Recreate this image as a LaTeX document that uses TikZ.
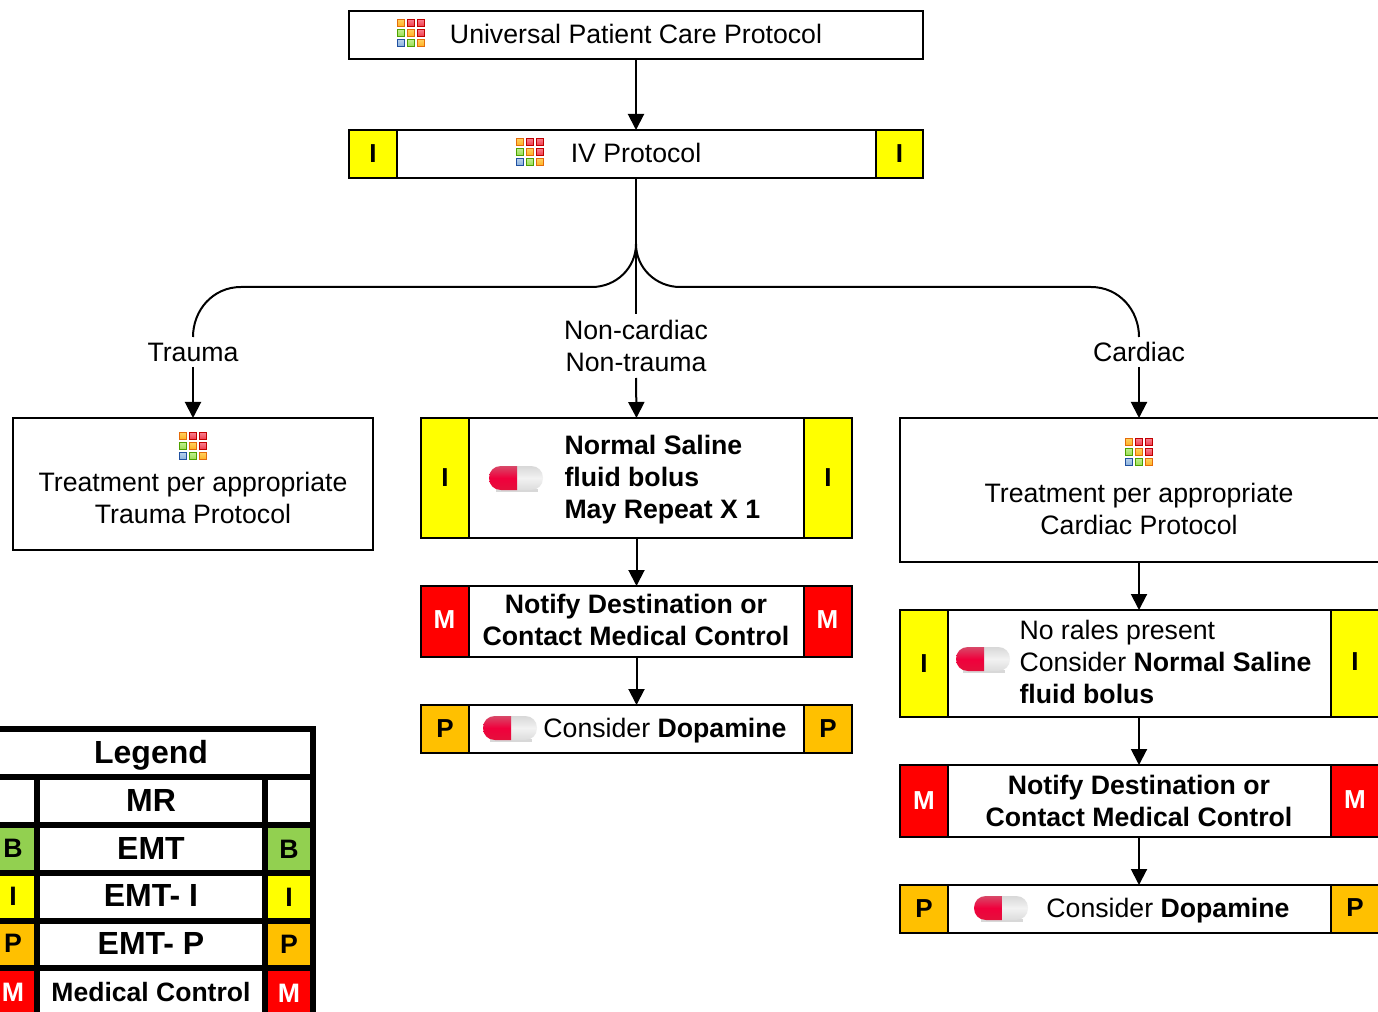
\documentclass[tikz,border=0pt]{standalone}
\usepackage{fontspec}
\setmainfont{Liberation Sans}
\usetikzlibrary{arrows.meta}
\definecolor{tabY}{HTML}{FFFF00}
\definecolor{tabP}{HTML}{FFC000}
\definecolor{tabM}{HTML}{FF0000}
\definecolor{tabB}{HTML}{92D050}
\definecolor{icoOb}{HTML}{E46C0A}
\definecolor{icoOt}{HTML}{FFD060}
\definecolor{icoOm}{HTML}{FFB020}
\definecolor{icoRb}{HTML}{C00000}
\definecolor{icoRt}{HTML}{F88090}
\definecolor{icoRm}{HTML}{F03848}
\definecolor{icoGb}{HTML}{4EA000}
\definecolor{icoGt}{HTML}{C0F090}
\definecolor{icoGm}{HTML}{98DC50}
\definecolor{icoBb}{HTML}{2050A0}
\definecolor{icoBt}{HTML}{B8D0EC}
\definecolor{icoBm}{HTML}{88B0DC}
\definecolor{pillRt}{HTML}{D84868}
\definecolor{pillRm}{HTML}{F0003C}
\definecolor{pillRb}{HTML}{E4103C}
\definecolor{pillGt}{HTML}{D8D8D8}
\definecolor{pillGm}{HTML}{F2F2F2}
\definecolor{pillGb}{HTML}{DCDCDC}
\newcommand{\pxnode}[7]{\node[#6,minimum width={(#4-#2)*0.75pt},minimum height={(#5-#3)*0.75pt}] (#1) at ({(#2+#4)/2},{(#3+#5)/2}) {#7};}
\newcommand{\iconcell}[4]{\path[draw=ico#3b,line width=0.75pt,top color=ico#3t,bottom color=ico#3m] (#1,#2) rectangle ++(7.5,7.5);}
\tikzset{
  x=0.75pt,y=-0.75pt,
  body/.style={font=\fontsize{20}{24}\selectfont},
  bodyb/.style={font=\fontsize{20}{24}\selectfont\bfseries},
  box/.style={draw=black,line width=1.4pt,fill=white,inner sep=0pt,outer sep=0pt,align=center,body},
  tab/.style={draw=black,line width=1.4pt,inner sep=0pt,outer sep=0pt,font=\fontsize{19.5}{24}\selectfont\bfseries},
  tabI/.style={tab,fill=tabY},
  tabO/.style={tab,fill=tabP},
  tabR/.style={tab,fill=tabM,text=white},
  lbl/.style={inner sep=0pt,outer sep=0pt,align=center,body},
  lblleft/.style={inner sep=0pt,outer sep=0pt,align=left,anchor=west,body},
  link/.style={line width=1.5pt,draw=black},
  arrow/.style={link,-{Triangle[length=12pt,width=12pt]}},
  cell/.style={draw=black,line width=4pt,inner sep=0pt,outer sep=0pt,align=center,fill=white},
  ltab/.style={cell,font=\fontsize{20}{24}\selectfont\bfseries},
  ltxt/.style={inner sep=0pt,outer sep=0pt,font=\fontsize{24}{28}\selectfont\bfseries},
  gridicon/.pic={
    \iconcell{-13.75}{-13.75}{O}{}
    \iconcell{-3.75}{-13.75}{R}{}
    \iconcell{6.25}{-13.75}{R}{}
    \iconcell{-13.75}{-3.75}{G}{}
    \iconcell{-3.75}{-3.75}{O}{}
    \iconcell{6.25}{-3.75}{R}{}
    \iconcell{-13.75}{6.25}{B}{}
    \iconcell{-3.75}{6.25}{G}{}
    \iconcell{6.25}{6.25}{O}{}
  },
  pill/.pic={
    \fill[black!30,opacity=.5] (-20,11) rectangle (22,13.5);
    \path[top color=pillGt,bottom color=pillGb,middle color=pillGm]
      (1,-12) -- (15,-12) .. controls (22,-12) and (27,-7) .. (27,0) .. controls (27,7) and (22,12) .. (15,12) -- (1,12) -- cycle;
    \path[top color=pillRt,bottom color=pillRb,middle color=pillRm]
      (1,-12) -- (-15,-12) .. controls (-22,-12) and (-27,-7) .. (-27,0) .. controls (-27,7) and (-22,12) .. (-15,12) -- (1,12) -- cycle;
  }
}
\begin{document}
\begin{tikzpicture}
\useasboundingbox (0,0) rectangle (1378,1012);
\clip (0,0) rectangle (1378,1012);

% top
\pxnode{top}{349}{11}{923}{59}{box}{}
\node[lbl] (topt) at (636,33.5) {Universal Patient Care Protocol};
\pic at (411,33) {gridicon};
\pxnode{iv}{349}{130}{923}{178}{box}{}
\node[lbl] (ivt) at (636,152.5) {IV Protocol};
\pxnode{ivl}{349}{130}{397}{178}{tabI}{I}
\pxnode{ivr}{876}{130}{923}{178}{tabI}{I}
\pic at (530,152) {gridicon};

% labels
\node[lbl,minimum height=22.5pt] (trauma) at (193,352) {Trauma};
\node[lbl,minimum height=22.5pt] (cardiac) at (1139,352) {Cardiac};
\node[lbl,minimum height=48pt] (nc) at (636,346) {Non-cardiac\\Non-trauma};
\coordinate (fork) at (636,244);

% left column
\pxnode{tr}{13}{418}{373}{550}{box}{}
\pic at (193,446) {gridicon};
\node[lbl] (trt) at (193,498) {Treatment per appropriate\\Trauma Protocol};

% middle column
\pxnode{ns}{421}{418}{852}{538}{box}{}
\pxnode{nsl}{421}{418}{469}{538}{tabI}{I}
\pxnode{nsr}{804}{418}{852}{538}{tabI}{I}
\pic at (516,478) {pill};
\node[lblleft,bodyb] (nst) at (564.5,480) {Normal Saline\\fluid bolus\\May Repeat X 1};
\pxnode{nd}{421}{586}{852}{657}{box}{}
\node[lbl,bodyb] (ndt) at (636,620) {Notify Destination or\\Contact Medical Control};
\pxnode{ndl}{421}{586}{469}{657}{tabR}{}
\pxnode{ndr}{804}{586}{852}{657}{tabR}{}
\node[tab,draw=none,text=white] (ndlt) at (444.5,620) {M};
\node[tab,draw=none,text=white] (ndrt) at (827.5,620) {M};
\pxnode{dp}{421}{705}{852}{753}{box}{}
\pxnode{dpl}{421}{705}{469}{753}{tabO}{P}
\pxnode{dpr}{804}{705}{852}{753}{tabO}{P}
\pic at (510,728) {pill};
\node[lbl] (dpt) at (665,731) {Consider \textbf{Dopamine}};

% right column
\pxnode{ca}{900}{418}{1382}{562}{box}{}
\pic at (1139,452) {gridicon};
\node[lbl] (cat) at (1139,509) {Treatment per appropriate\\Cardiac Protocol};
\pxnode{nr}{900}{610}{1382}{717}{box}{}
\pxnode{nrl}{900}{610}{948}{717}{tabI}{I}
\pxnode{nrr}{1331}{610}{1382}{717}{tabI}{}
\node[tab,draw=none] (nrri) at (1355,662) {I};
\pic at (983,659) {pill};
\node[lblleft] (nrt) at (1019.5,662) {No rales present\\Consider \textbf{Normal Saline}\\\textbf{fluid bolus}};
\pxnode{cn}{900}{765}{1382}{837}{box}{}
\node[lbl,bodyb] (cnt) at (1139,801) {Notify Destination or\\Contact Medical Control};
\pxnode{cnl}{900}{765}{948}{837}{tabR}{M}
\pxnode{cnr}{1331}{765}{1382}{837}{tabR}{}
\node[tab,draw=none,text=white] (cnri) at (1355,800) {M};
\pxnode{cd}{900}{885}{1382}{933}{box}{}
\pxnode{cdl}{900}{885}{948}{933}{tabO}{P}
\pxnode{cdr}{1331}{885}{1382}{933}{tabO}{}
\node[tab,draw=none] (cdri) at (1355,908) {P};
\pic at (1001,908) {pill};
\node[lbl] (cdt) at (1168,911) {Consider \textbf{Dopamine}};

% connectors
\draw[arrow] (top.south) -- (iv.north);
\draw[link] (iv.south) -- (nc.north);
\draw[link] (fork) .. controls (636,268) and (616,287) .. (592,287) -- (241,287) .. controls (213,287) and (193,310) .. (trauma.north);
\draw[link] (fork) .. controls (636,268) and (656,287) .. (680,287) -- (1091,287) .. controls (1119,287) and (1139,310) .. (cardiac.north);
\draw[arrow] (trauma.south) -- (tr.north);
\draw[arrow] (cardiac.south) -- (cardiac.south |- ca.north);
\draw[arrow] (nc.south) -- (ns.north);
\draw[arrow] (ns.south) -- (nd.north);
\draw[arrow] (nd.south) -- (dp.north);
\draw[arrow] (cardiac.south |- ca.south) -- (cardiac.south |- nr.north);
\draw[arrow] (cardiac.south |- nr.south) -- (cardiac.south |- cn.north);
\draw[arrow] (cardiac.south |- cn.south) -- (cardiac.south |- cd.north);

% legend
\pxnode{lg}{-11}{729}{313}{777}{cell}{}
\pxnode{l1a}{-11}{777}{37}{825}{ltab}{}
\pxnode{l1b}{37}{777}{265}{825}{cell}{}
\pxnode{l1c}{265}{777}{313}{825}{ltab}{}
\pxnode{l2a}{-11}{825}{37}{873}{ltab,fill=tabB}{}
\pxnode{l2b}{37}{825}{265}{873}{cell}{}
\pxnode{l2c}{265}{825}{313}{873}{ltab,fill=tabB}{B}
\pxnode{l3a}{-11}{873}{37}{921}{ltab,fill=tabY}{}
\pxnode{l3b}{37}{873}{265}{921}{cell}{}
\pxnode{l3c}{265}{873}{313}{921}{ltab,fill=tabY}{I}
\pxnode{l4a}{-11}{921}{37}{968}{ltab,fill=tabP}{}
\pxnode{l4b}{37}{921}{265}{968}{cell}{}
\pxnode{l4c}{265}{921}{313}{968}{ltab,fill=tabP}{P}
\pxnode{l5a}{-11}{968}{37}{1018}{ltab,fill=tabM}{}
\pxnode{l5b}{37}{968}{265}{1018}{cell}{}
\pxnode{l5c}{265}{968}{313}{1018}{ltab,fill=tabM,text=white}{M}
\node[ltxt] (lgt) at (151,755) {Legend};
\node[ltxt] (l1t) at (151,800) {MR};
\node[ltxt] (l2t) at (151,848) {EMT};
\node[ltxt] (l3t) at (151,895) {EMT- I};
\node[ltxt] (l4t) at (151,943) {EMT- P};
\node[ltxt,font=\fontsize{19.9}{24}\selectfont\bfseries] (l5t) at (151,992) {Medical Control};
\node[ltab,draw=none,fill=none] (l2at) at (13,848) {B};
\node[ltab,draw=none,fill=none] (l3at) at (13,896) {I};
\node[ltab,draw=none,fill=none] (l4at) at (13,943) {P};
\node[ltab,draw=none,fill=none,text=white] (l5at) at (13,992) {M};
\end{tikzpicture}
\end{document}
